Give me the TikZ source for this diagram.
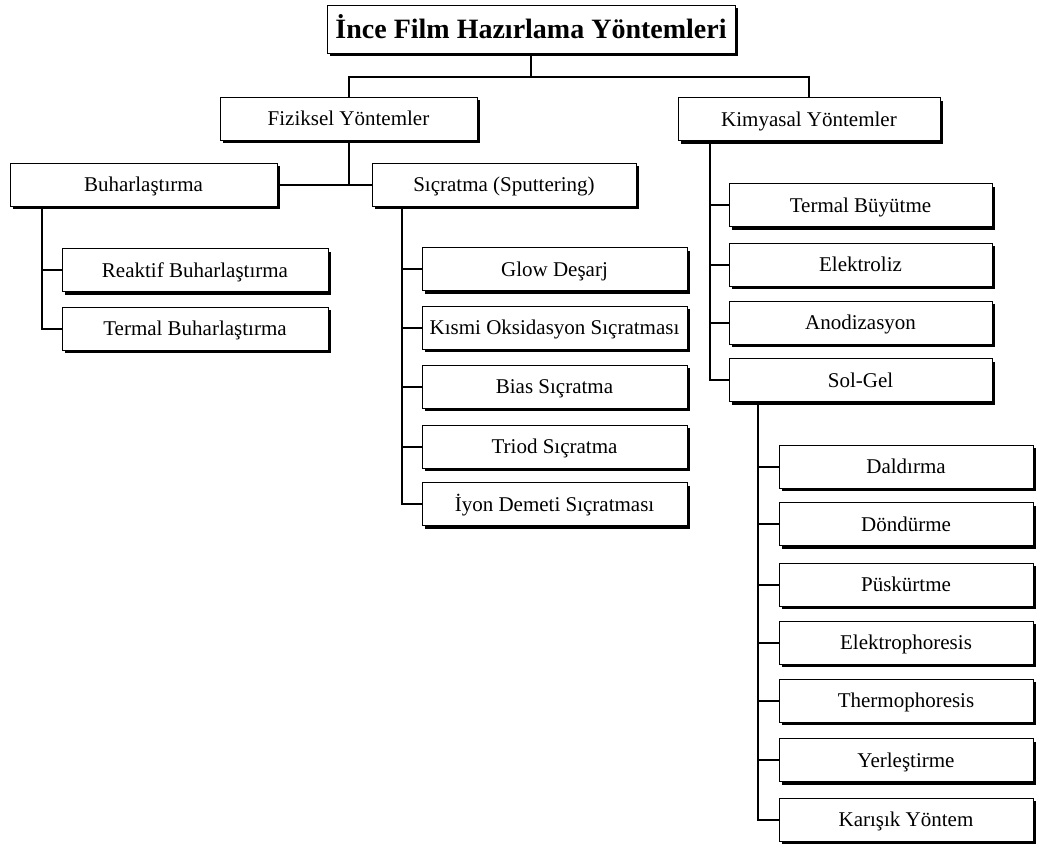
\documentclass[tikz,border=0pt]{standalone}
\usepackage{fontspec}
\setmainfont{Liberation Serif}
\usetikzlibrary{shadows}
\begin{document}
\begin{tikzpicture}[x=1pt,y=-1pt,
  box/.style={draw=black, line width=0.8pt, fill=white, inner sep=0pt,
    minimum height=43pt, text height=15pt, text depth=1pt,
    font=\fontsize{21}{24}\selectfont,
    drop shadow={shadow xshift=3pt, shadow yshift=-3pt, fill=black, opacity=1}},
  titlebox/.style={box, font=\fontsize{28}{32}\selectfont\bfseries,
    minimum height=48pt, text height=20pt, text depth=1pt},
  link/.style={draw=black, line width=2pt}]
\useasboundingbox (0,0) rectangle (1039,846);

% top level
\node[titlebox, minimum width=408pt] (title) at (531,29) {İnce Film Hazırlama Yöntemleri};
\node[box, minimum width=257pt] (fiz) at (348.5,118.5) {Fiziksel Yöntemler};
\node[box, minimum width=262pt] (kim) at (809,119) {Kimyasal Yöntemler};

% physical methods
\node[box, minimum width=267pt] (buh) at (143.5,184.5) {Buharlaştırma};
\node[box, minimum width=264pt] (sic) at (504,184.5) {Sıçratma (Sputtering)};
\node[box, minimum width=266pt] (reak) at (195,270) {Reaktif Buharlaştırma};
\node[box, minimum width=266pt] (tbuh) at (195,328.5) {Termal Buharlaştırma};

\node[box, minimum width=265pt] (glow) at (554.5,269) {Glow Deşarj};
\node[box, minimum width=265pt] (kismi) at (554.5,327.5) {Kısmi Oksidasyon Sıçratması};
\node[box, minimum width=265pt] (bias) at (554.5,386.5) {Bias Sıçratma};
\node[box, minimum width=265pt] (triod) at (554.5,446.5) {Triod Sıçratma};
\node[box, minimum width=265pt] (iyon) at (554.5,504) {İyon Demeti Sıçratması};

% chemical methods
\node[box, minimum width=263pt] (tbuy) at (860.5,205) {Termal Büyütme};
\node[box, minimum width=263pt] (elek) at (860.5,264.5) {Elektroliz};
\node[box, minimum width=263pt] (anod) at (860.5,322.5) {Anodizasyon};
\node[box, minimum width=263pt] (solgel) at (860.5,380) {Sol-Gel};

% sol-gel techniques
\node[box, minimum width=254pt] (dald) at (906,466.5) {Daldırma};
\node[box, minimum width=254pt] (dond) at (906,524) {Döndürme};
\node[box, minimum width=254pt] (pusk) at (906,584.5) {Püskürtme};
\node[box, minimum width=254pt] (elph) at (906,642.5) {Elektrophoresis};
\node[box, minimum width=254pt] (thph) at (906,700.5) {Thermophoresis};
\node[box, minimum width=254pt] (yerl) at (906,760) {Yerleştirme};
\node[box, minimum width=254pt] (kar) at (906,819.5) {Karışık Yöntem};

% connectors
\coordinate (j1) at (531,77);
\draw[link] (title.south) -- (j1);
\draw[link] (fiz.north) |- (j1) -| (kim.north);

\draw[link] (fiz.south) -- (fiz.south |- buh.east);
\draw[link] (buh.east) -- (sic.west);

\coordinate (bt) at ([xshift=32pt]buh.south west);
\draw[link] (bt) |- (tbuh.west);
\draw[link] (bt |- reak.west) -- (reak.west);

\coordinate (st) at ([xshift=30pt]sic.south west);
\draw[link] (st) |- (iyon.west);
\foreach \n in {glow,kismi,bias,triod}
  \draw[link] (st |- \n.west) -- (\n.west);

\coordinate (kt) at ([xshift=32pt]kim.south west);
\draw[link] (kt) |- (solgel.west);
\foreach \n in {tbuy,elek,anod}
  \draw[link] (kt |- \n.west) -- (\n.west);

\coordinate (gt) at ([xshift=29pt]solgel.south west);
\draw[link] (gt) |- (kar.west);
\foreach \n in {dald,dond,pusk,elph,thph,yerl}
  \draw[link] (gt |- \n.west) -- (\n.west);
\end{tikzpicture}
\end{document}
